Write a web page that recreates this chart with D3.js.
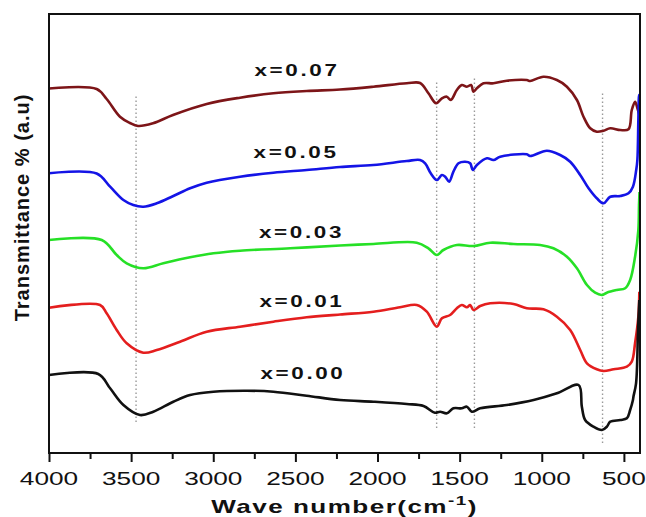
<!DOCTYPE html>
<html>
<head>
<meta charset="utf-8">
<script src="https://cdn.jsdelivr.net/npm/d3@7/dist/d3.min.js"></script>
<style>
  html, body { margin: 0; padding: 0; background: #fff; }
  svg { display: block; }
  text { font-family: "Liberation Sans", Arial, sans-serif; fill: #111; }
</style>
</head>
<body>
<svg id="chart" width="646" height="517"></svg>
<script>
// FTIR spectra, offset vertically (transmittance in arbitrary units)
// Each series: [wavenumber (cm-1), transmittance (a.u.)]
const spectrum000 = [
  [4000,78],[3700,79],[3628,64.7],[3547,48],[3446,38],[3365,41.3],[3243,51.3],[3141,58],
  [2999,61.3],[2796,62.3],[2634,61.3],[2431,57.3],[2228,53],[2025,51.3],[1822,49],[1720,47],
  [1651,40.3],[1619,41.3],[1578,39.7],[1538,44.7],[1487,44.7],[1456,46.3],[1426,41.3],[1375,44.7],
  [1213,48],[1050,53],[908,59.7],[776,68],[756,46.3],[736,33],[685,26.3],[634,23],[604,26.3],
  [583,31.3],[522,33],[482,34.7],[462,43],[445,53],[442,56.3],[426,69.7],[414,123],[406,153]
];
const spectrum001 = [
  [4000,145.3],[3689,148],[3649,139.7],[3588,123],[3527,109.7],[3426,100.3],[3344,103],[3202,111.3],
  [3040,121.3],[2837,126.3],[2634,131.3],[2431,135.7],[2228,138.5],[2025,141.3],[1863,145.7],[1761,148],
  [1700,141.3],[1639,126.3],[1608,134.7],[1558,138],[1517,144.7],[1487,148],[1456,145.7],[1436,148],
  [1416,143],[1375,147],[1314,149.7],[1172,149],[1091,144.7],[990,143.7],[908,136.3],[827,123],
  [766,103],[725,89.7],[665,83.7],[624,82],[563,83.7],[482,86.3],[452,91.3],[432,109.7],[412,136.3],[406,161.3]
];
const spectrum003 = [
  [4000,213],[3679,213],[3588,198],[3527,189.7],[3426,184.7],[3304,189.7],[3141,195.7],[2999,199.7],
  [2837,202.3],[2532,204.7],[2228,207.5],[2025,209],[1761,210.3],[1690,204.7],[1639,198],[1599,203],
  [1517,208],[1416,207],[1314,210.3],[1172,209],[1010,208],[929,204.7],[847,196.3],[786,184.7],
  [725,168],[675,160.3],[634,158],[604,160.3],[543,163],[492,164.7],[462,173],[432,196.3],[412,223],
  [408,248],[405,261]
];
const spectrum005 = [
  [4000,279.7],[3710,279.5],[3628,266.3],[3547,253],[3487,248],[3426,246.3],[3344,249.7],[3243,257],
  [3141,264.7],[3040,270.3],[2837,276.3],[2634,280.3],[2431,283],[2228,286],[2025,288],[1822,292],
  [1741,293],[1710,289.7],[1676,279.7],[1639,273],[1608,278],[1588,276.3],[1564,271.3],[1538,281.3],
  [1507,289.7],[1467,291.3],[1436,289.7],[1420,283],[1395,288],[1334,294.7],[1294,293],[1253,296.3],
  [1091,298.7],[1071,297],[969,302.3],[888,298],[827,291.3],[766,278],[715,264.7],[665,254.7],
  [624,249.7],[583,256.3],[522,257],[472,259.7],[445,266.3],[425,283],[418,293],[412,333],[408,358],[405,353]
];
const spectrum007 = [
  [4000,364.5],[3710,364],[3649,354],[3568,336.3],[3507,330],[3458,327],[3367,329.7],[3245,338],
  [3040,349],[2837,355.3],[2634,359.7],[2431,362],[2228,363.5],[2025,366.3],[1822,369.7],[1741,370],
  [1690,359.7],[1643,349.7],[1608,354.7],[1578,356.3],[1554,353],[1517,363],[1487,368],[1456,366.3],
  [1430,368],[1416,361.3],[1395,364.7],[1355,369.7],[1294,369.7],[1213,372.3],[1091,373],[1071,372],
  [990,376.3],[908,373],[847,366.3],[786,353],[746,336.3],[705,324.7],[665,321.3],[624,322.3],
  [583,324.7],[522,323],[472,323.7],[452,343],[432,351.3],[418,345],[406,338]
];

const seriesNames  = ["x=0.07", "x=0.05", "x=0.03", "x=0.01", "x=0.00"];
const seriesData   = [spectrum007, spectrum005, spectrum003, spectrum001, spectrum000];
const seriesColors = ["#7d1518", "#1414e6", "#26e026", "#e41e1e", "#111111"];
// label anchors in data units: [wavenumber, transmittance]
const labelAnchors = [[2490, 377.3], [2496, 294.7], [2463, 214.7], [2460, 146.3], [2454, 74]];

// characteristic bands, marked with dotted guides: [wavenumber, from, to]
const bandGuides = [[3470, 31, 358], [1640, 25, 373], [1410, 25, 376], [630, 10, 360]];

const xMajorTicks = [4000, 3500, 3000, 2500, 2000, 1500, 1000, 500];
const xMinorTicks = [3750, 3250, 2750, 2250, 1750, 1250, 750];

const margin = { left: 49, right: 6, top: 14, bottom: 64 };
const W = 646, H = 517;
const svg = d3.select("#chart");

const x = d3.scaleLinear().domain([4000, 402]).range([margin.left, W - margin.right]);
const y = d3.scaleLinear().domain([0, 439]).range([H - margin.bottom, margin.top]);

// dotted band guides
svg.append("g").selectAll("line").data(bandGuides).join("line")
  .attr("x1", d => x(d[0])).attr("x2", d => x(d[0]))
  .attr("y1", d => y(d[1])).attr("y2", d => y(d[2]))
  .attr("stroke", "#9a9a9a").attr("stroke-width", 1.4)
  .attr("stroke-dasharray", "1.5,2.5");

// spectra
const line = d3.line()
  .x(d => x(d[0])).y(d => y(d[1]))
  .curve(d3.curveCatmullRom.alpha(0.5));

svg.append("g").selectAll("path").data(seriesData).join("path")
  .attr("d", line)
  .attr("fill", "none")
  .attr("stroke", (d, i) => seriesColors[i])
  .attr("stroke-width", 2.6)
  .attr("stroke-linejoin", "round");

// series labels
svg.append("g").selectAll("text").data(seriesNames).join("text")
  .attr("transform", (d, i) => `translate(${x(labelAnchors[i][0])},${y(labelAnchors[i][1])}) scale(1.32,1)`)
  .attr("text-anchor", "middle")
  .style("font-weight", "bold")
  .style("font-size", "17px")
  .style("letter-spacing", "2px")
  .text(d => d);

// frame
svg.append("rect")
  .attr("x", margin.left).attr("y", margin.top)
  .attr("width", W - margin.right - margin.left)
  .attr("height", H - margin.bottom - margin.top)
  .attr("fill", "none").attr("stroke", "#111").attr("stroke-width", 2);

// bottom axis
const axisY = H - margin.bottom;
const gx = svg.append("g").attr("transform", `translate(0,${axisY})`);
gx.call(d3.axisBottom(x).tickValues(xMinorTicks).tickSize(6).tickFormat(""))
  .call(g => g.select(".domain").remove());
gx.append("g").call(d3.axisBottom(x).tickValues(xMajorTicks).tickSize(9).tickFormat(""))
  .call(g => g.select(".domain").remove());
gx.selectAll(".tick line").attr("stroke", "#111").attr("stroke-width", 2);

svg.append("g").selectAll("text").data(xMajorTicks).join("text")
  .attr("transform", d => `translate(${x(d)},${axisY + 32}) scale(1.38,1)`)
  .attr("text-anchor", "middle")
  .style("font-size", "19px")
  .text(d => d);

// axis titles
const xt = svg.append("text")
  .attr("transform", `translate(${(margin.left + W - margin.right) / 2},${H - 4}) scale(1.45,1)`)
  .attr("text-anchor", "middle")
  .style("font-weight", "bold")
  .style("font-size", "18px")
  .style("letter-spacing", "1px");
xt.append("tspan").text("Wave number(cm");
xt.append("tspan").attr("dy", -8).style("font-size", "13px").text("-1");
xt.append("tspan").attr("dy", 8).text(")");

svg.append("text")
  .attr("transform", `translate(29,207.5) rotate(-90)`)
  .attr("text-anchor", "middle")
  .style("font-weight", "bold")
  .style("font-size", "20px")
  .style("letter-spacing", "1px")
  .text("Transmittance % (a.u)");
</script>
</body>
</html>
